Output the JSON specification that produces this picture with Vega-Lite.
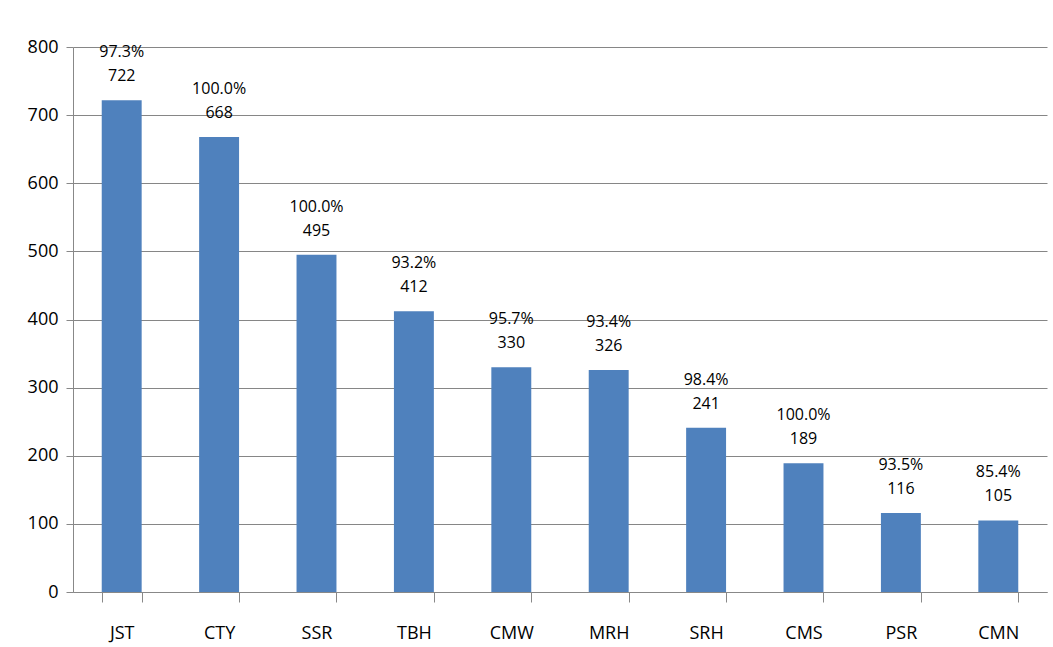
{
  "$schema": "https://vega.github.io/schema/vega-lite/v6.json",
  "width": 974,
  "height": 545,
  "autosize": {"type": "none"},
  "padding": {"left": 73, "top": 47, "right": 6, "bottom": 55},
  "background": "white",
  "config": {"view": {"stroke": null}, "font": "Open Sans"},
  "data": {"values": [
    {"site": "JST", "count": 722, "pct": "97.3%"},
    {"site": "CTY", "count": 668, "pct": "100.0%"},
    {"site": "SSR", "count": 495, "pct": "100.0%"},
    {"site": "TBH", "count": 412, "pct": "93.2%"},
    {"site": "CMW", "count": 330, "pct": "95.7%"},
    {"site": "MRH", "count": 326, "pct": "93.4%"},
    {"site": "SRH", "count": 241, "pct": "98.4%"},
    {"site": "CMS", "count": 189, "pct": "100.0%"},
    {"site": "PSR", "count": 116, "pct": "93.5%"},
    {"site": "CMN", "count": 105, "pct": "85.4%"}
  ]},
  "encoding": {
    "x": {"field": "site", "type": "nominal", "sort": null,
      "scale": {"paddingInner": 0.59, "paddingOuter": 0.295},
      "axis": {"title": null, "labelAngle": 0, "labelFontSize": 18, "labelColor": "#000", "labelPadding": 22,
        "tickBand": "extent", "tickSize": 10, "tickColor": "#888", "domainColor": "#888"}},
    "y": {"field": "count", "type": "quantitative",
      "scale": {"domain": [0, 800], "nice": false},
      "axis": {"title": null, "values": [0,100,200,300,400,500,600,700,800], "labelFontSize": 18, "labelColor": "#000",
        "tickSize": 7, "tickColor": "#888", "domainColor": "#888", "gridColor": "#868686", "labelPadding": 8}}
  },
  "layer": [
    {"mark": {"type": "bar", "color": "#4F81BD"}},
    {"mark": {"type": "text", "dy": -24, "fontSize": 16, "color": "#000"}, "encoding": {"text": {"field": "count"}}},
    {"mark": {"type": "text", "dy": -48, "fontSize": 16, "color": "#000"}, "encoding": {"text": {"field": "pct"}}}
  ]
}
